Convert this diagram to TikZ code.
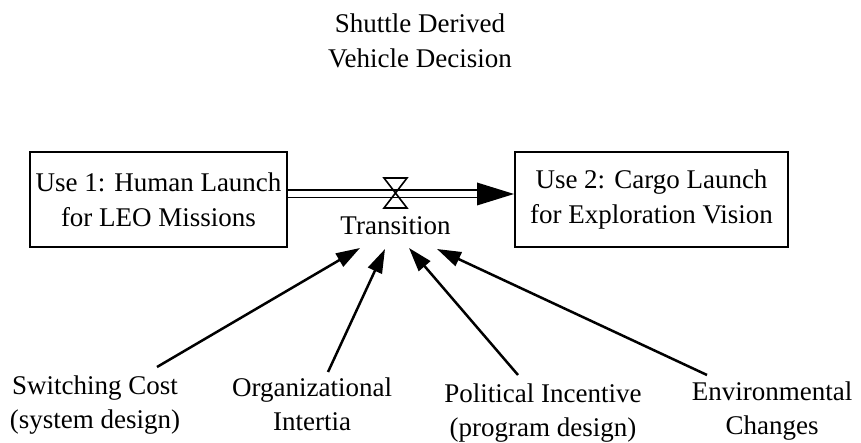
\documentclass[tikz,border=0pt]{standalone}
\usepackage{fontspec}
\setmainfont{Liberation Serif}
\usetikzlibrary{arrows.meta}
\begin{document}
\begin{tikzpicture}[x=1pt,y=-1pt,
  txt/.style={font=\fontsize{27}{35}\selectfont, inner sep=0pt, align=center},
  lbl/.style={font=\fontsize{27}{34}\selectfont, inner sep=0pt, align=center, anchor=base},
  usebox/.style={txt, draw, line width=2pt, minimum width=#1, minimum height=95pt},
  infl/.style={line width=2.5pt, -{Triangle[length=24pt,width=15pt]}},
  pipe/.style={line width=1.8pt},
  valve/.style={line width=1.6pt, line join=miter}]
\useasboundingbox (0,0) rectangle (861,443);
\fill[white] (0,0) rectangle (861,443);
% title (base anchor = baseline of last line)
\node[txt, anchor=base] (title) at (420,68) {Shuttle Derived\\Vehicle Decision};
% stocks
\node[usebox=257pt] (use1) at (158.5,199.5) {Use 1: Human Launch\\for LEO Missions};
\node[usebox=273pt] (use2) at (651.5,199.5) {Use 2: Cargo Launch\\for Exploration Vision};
% flow pipe
\coordinate (tip) at (use2.west |- 0,194);
\coordinate (hb) at (477,194);
\draw[pipe] (use1.east |- 0,190) -- (hb |- 0,190);
\draw[pipe] (use1.east |- 0,197.5) -- (hb |- 0,197.5);
\fill (477,182.5) -- (tip) -- (477,205.5) -- cycle;
% valve
\draw[valve] (384,178) -- (407,178) -- (384,208) -- (407,208) -- cycle;
\node[txt, anchor=base] (trans) at (395.5,235) {Transition};
% influences
\node[lbl] (sw) at (95,428) {Switching Cost\\(system design)};
\node[lbl] (org) at (312,430) {Organizational\\Intertia};
\node[lbl] (pol) at (543,436) {Political Incentive\\(program design)};
\node[lbl] (env) at (772,434) {Environmental\\Changes};
\coordinate (s1) at (157,367);
\coordinate (s2) at (328,372);
\coordinate (s3) at (518,375);
\coordinate (s4) at (707,375);
\coordinate (t1) at (360,248);
\coordinate (t2) at (385,249);
\coordinate (t3) at (409,248);
\coordinate (t4) at (437,249);
\draw[infl] (s1) -- (t1);
\draw[infl] (s2) -- (t2);
\draw[infl] (s3) -- (t3);
\draw[infl] (s4) -- (t4);
\end{tikzpicture}
\end{document}
